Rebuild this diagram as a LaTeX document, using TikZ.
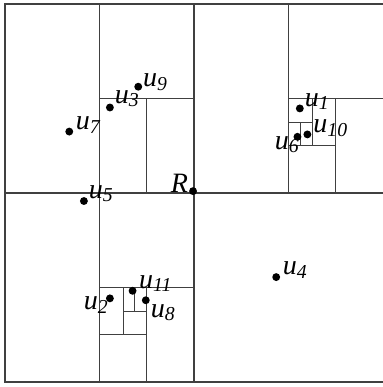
\documentclass[tikz,border=0pt]{standalone}
\usepackage{fontspec}
\setmainfont{Liberation Serif}
\usetikzlibrary{positioning,calc}
\definecolor{ink}{HTML}{000000}
\definecolor{gline}{HTML}{404040}
\tikzset{
  cell/.style={draw=gline,line width=0.5pt},
  pt/.style={circle,fill=ink,inner sep=0pt,minimum size=3.8pt},
  lab/.style={font=\fontsize{13.5}{16}\selectfont,inner sep=0pt,text=ink}
}
\newcommand{\ul}[1]{\textit{u}\raisebox{-1.6pt}{\fontsize{9.5}{11}\selectfont\textit{#1}}}

\begin{document}
\begin{tikzpicture}[x=0.8cm,y=0.8cm]
\useasboundingbox (-0.106,-0.106) rectangle (7.985,8.085);
% outer square and first split
\draw[cell] (8,0) -- (0,0) -- (0,8) -- (8,8);
\draw[cell] (4,0) -- (4,8);
\draw[cell] (0,4) -- (8,4);
% upper left
\draw[cell] (2,8) -- (2,4);
\draw[cell] (2,6) -- (4,6);
\draw[cell] (3,6) -- (3,4);
% upper right
\draw[cell] (6,8) -- (6,4);
\draw[cell] (6,6) -- (8,6);
\draw[cell] (7,6) -- (7,4);
\draw[cell] (6,5) -- (7,5);
\draw[cell] (6.5,6) -- (6.5,5);
\draw[cell] (6,5.5) -- (6.5,5.5);
\draw[cell] (6.25,5.5) -- (6.25,5);
% lower left
\draw[cell] (2,4) -- (2,0);
\draw[cell] (2,2) -- (4,2);
\draw[cell] (3,2) -- (3,0);
\draw[cell] (2,1) -- (3,1);
\draw[cell] (2.5,2) -- (2.5,1);
\draw[cell] (2.5,1.5) -- (3,1.5);
\draw[cell] (2.75,2) -- (2.75,1.5);
% points
\node[pt] (u1)  at (6.24,5.79) {};
\node[pt] (u2)  at (2.22,1.77) {};
\node[pt] (u3)  at (2.22,5.81) {};
\node[pt] (u4)  at (5.74,2.22) {};
\node[pt] (u5)  at (1.67,3.83) {};
\node[pt] (u6)  at (6.19,5.19) {};
\node[pt] (u7)  at (1.36,5.30) {};
\node[pt] (u8)  at (2.98,1.73) {};
\node[pt] (u9)  at (2.82,6.25) {};
\node[pt] (u10) at (6.40,5.24) {};
\node[pt] (u11) at (2.70,1.93) {};
\node[pt] (r)   at (3.98,4.04) {};
% labels
\node[lab,anchor=base west] (l1)  at ([shift={(2.2pt,1.1pt)}]u1.center) {\ul{1}};
\node[lab,anchor=base east] (l2)  at ([shift={(-0.8pt,-5.6pt)}]u2.center) {\ul{2}};
\node[lab,anchor=base west] (l3)  at ([shift={(2.2pt,1.9pt)}]u3.center) {\ul{3}};
\node[lab,anchor=base west] (l4)  at ([shift={(3.0pt,1.1pt)}]u4.center) {\ul{4}};
\node[lab,anchor=base west] (l5)  at ([shift={(2.2pt,1.4pt)}]u5.center) {\ul{5}};
\node[lab,anchor=base east] (l6)  at ([shift={(0.8pt,-6.1pt)}]u6.center) {\ul{6}};
\node[lab,anchor=base west] (l7)  at ([shift={(3.0pt,0.8pt)}]u7.center) {\ul{7}};
\node[lab,anchor=base west] (l8)  at ([shift={(2.2pt,-8.2pt)}]u8.center) {\ul{8}};
\node[lab,anchor=base west] (l9)  at ([shift={(2.1pt,0pt)}]u9.center) {\ul{9}};
\node[lab,anchor=base west] (l10) at ([shift={(2.7pt,0.8pt)}]u10.center) {\ul{10}};
\node[lab,anchor=base west] (l11) at ([shift={(3.0pt,1.3pt)}]u11.center) {\ul{11}};
\node[lab,anchor=base east] (lr)  at ([shift={(-2.2pt,-0.7pt)}]r.center) {\textit{R}};
\end{tikzpicture}
\end{document}
